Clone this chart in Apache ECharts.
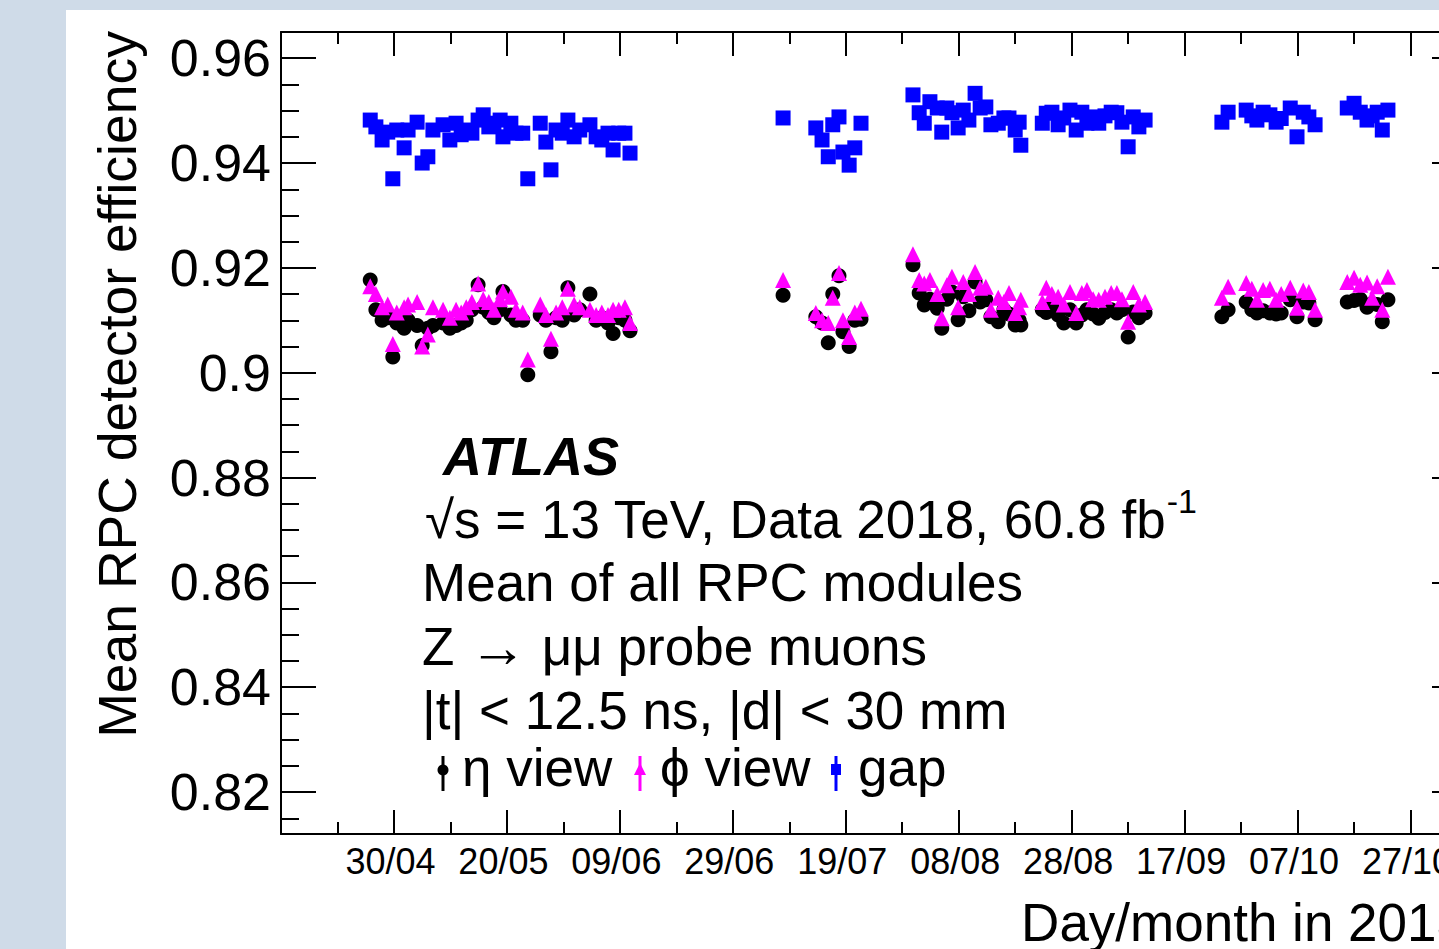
<!DOCTYPE html>
<html>
<head>
<meta charset="utf-8">
<script src="https://cdn.jsdelivr.net/npm/echarts@6/dist/echarts.min.js"></script>
<style>
  html, body { margin: 0; padding: 0; width: 1439px; height: 949px; overflow: hidden; background: #cfdbe8; }
  #chart { position: absolute; left: 66px; top: 10px; width: 1420px; height: 939px; background: #ffffff; }
</style>
</head>
<body>
<div id="chart"></div>
<script>
// ---------------- DATA ----------------
// x: day of year 2018 of each run
const dayOfYear = [
  115.8,116.8,117.9,118.9,119.8,120.5,121.8,122.5,124.1,125.0,126.0,126.9,128.7,129.9,131.0,131.9,132.8,133.8,134.9,135.8,136.8,137.7,138.8,139.3,140.7,141.6,142.8,143.7,145.9,146.9,147.8,148.7,149.8,150.8,151.9,152.9,154.7,155.8,156.8,157.9,158.8,159.8,160.9,161.8,
  188.9,194.7,195.8,196.9,197.7,198.8,199.5,200.6,201.6,202.7,
  211.9,213.0,213.9,214.9,216.2,217.0,217.9,218.8,219.9,220.8,221.8,222.9,223.8,224.8,225.7,227.0,228.0,228.9,230.0,230.7,231.0,
  234.8,235.5,236.5,237.6,238.6,239.7,240.8,241.8,242.7,243.8,244.8,245.9,247.0,248.0,248.9,250.0,250.9,251.9,253.0,
  266.6,267.7,270.9,271.9,272.8,273.9,275.1,276.2,277.1,278.7,279.9,281.0,282.0,283.1,
  288.8,290.0,291.1,292.3,293.2,294.1,295.0,296.0
];
const etaEff = [
  0.9177,0.9120,0.9100,0.9105,0.9030,0.9095,0.9085,0.9100,0.9090,0.9052,0.9085,0.9090,0.9095,0.9085,0.9090,0.9095,0.9100,0.9120,0.9168,0.9125,0.9115,0.9105,0.9120,0.9155,0.9110,0.9100,0.9100,0.8996,0.9110,0.9100,0.9040,0.9105,0.9100,0.9162,0.9110,0.9120,0.9150,0.9100,0.9105,0.9095,0.9075,0.9105,0.9100,0.9080,
  0.9148,0.9107,0.9095,0.9057,0.9150,0.9185,0.9078,0.9050,0.9100,0.9102,
  0.9206,0.9152,0.9129,0.9140,0.9123,0.9085,0.9140,0.9154,0.9101,0.9145,0.9118,0.9173,0.9135,0.9139,0.9107,0.9097,0.9120,0.9112,0.9091,0.9100,0.9091,
  0.9120,0.9115,0.9128,0.9110,0.9095,0.9120,0.9095,0.9110,0.9120,0.9112,0.9104,0.9115,0.9120,0.9114,0.9120,0.9068,0.9116,0.9105,0.9114,
  0.9107,0.9120,0.9135,0.9120,0.9114,0.9118,0.9114,0.9112,0.9114,0.9139,0.9107,0.9135,0.9133,0.9101,
  0.9135,0.9138,0.9140,0.9125,0.9132,0.9130,0.9097,0.9139
];
const phiEff = [
  0.9165,0.9150,0.9125,0.9130,0.9055,0.9115,0.9125,0.9130,0.9135,0.9050,0.9073,0.9125,0.9120,0.9105,0.9120,0.9115,0.9125,0.9135,0.9170,0.9140,0.9135,0.9120,0.9140,0.9155,0.9145,0.9120,0.9115,0.9025,0.9130,0.9110,0.9065,0.9115,0.9125,0.9160,0.9130,0.9125,0.9120,0.9110,0.9115,0.9110,0.9120,0.9120,0.9125,0.9095,
  0.9177,0.9114,0.9100,0.9095,0.9143,0.9190,0.9100,0.9068,0.9115,0.9122,
  0.9226,0.9177,0.9170,0.9177,0.9150,0.9104,0.9167,0.9183,0.9125,0.9173,0.9150,0.9192,0.9162,0.9164,0.9120,0.9143,0.9135,0.9152,0.9114,0.9125,0.9139,
  0.9135,0.9162,0.9150,0.9145,0.9130,0.9154,0.9114,0.9152,0.9158,0.9140,0.9139,0.9145,0.9152,0.9152,0.9140,0.9097,0.9154,0.9130,0.9135,
  0.9143,0.9164,0.9171,0.9160,0.9139,0.9158,0.9160,0.9139,0.9150,0.9162,0.9124,0.9157,0.9154,0.9120,
  0.9173,0.9181,0.9168,0.9172,0.9143,0.9165,0.9120,0.9183
];
const gapEff = [
  0.9482,0.9469,0.9444,0.9459,0.9370,0.9463,0.9429,0.9463,0.9478,0.9400,0.9412,0.9463,0.9473,0.9444,0.9476,0.9454,0.9463,0.9457,0.9482,0.9492,0.9469,0.9476,0.9482,0.9450,0.9476,0.9457,0.9457,0.9370,0.9476,0.9440,0.9387,0.9463,0.9457,0.9482,0.9450,0.9463,0.9473,0.9450,0.9444,0.9457,0.9425,0.9457,0.9457,0.9419,
  0.9486,0.9467,0.9444,0.9412,0.9473,0.9488,0.9421,0.9396,0.9429,0.9476,
  0.9530,0.9496,0.9476,0.9517,0.9505,0.9459,0.9505,0.9496,0.9467,0.9501,0.9482,0.9533,0.9505,0.9507,0.9473,0.9476,0.9486,0.9486,0.9463,0.9478,0.9434,
  0.9476,0.9495,0.9497,0.9473,0.9486,0.9501,0.9463,0.9497,0.9476,0.9488,0.9476,0.9490,0.9497,0.9496,0.9478,0.9431,0.9488,0.9469,0.9482,
  0.9478,0.9497,0.9501,0.9490,0.9482,0.9497,0.9492,0.9478,0.9485,0.9505,0.9450,0.9497,0.9488,0.9473,
  0.9505,0.9514,0.9497,0.9482,0.9490,0.9497,0.9463,0.9501
];
const seriesNames = ['η view', 'ϕ view', 'gap'];

// axis ranges and ticks
const xRange = [100, 310];
const yRange = [0.812, 0.965];
const xMajorTicks = [120, 140, 160, 180, 200, 220, 240, 260, 280, 300];
const xMinorTicks = [110, 130, 150, 170, 190, 210, 230, 250, 270, 290];
const yMajorTicks = [0.82, 0.84, 0.86, 0.88, 0.90, 0.92, 0.94, 0.96];
const yMinorTicks = [0.815, 0.825, 0.83, 0.835, 0.845, 0.85, 0.855, 0.865, 0.87, 0.875, 0.885, 0.89, 0.895,
                     0.905, 0.91, 0.915, 0.925, 0.93, 0.935, 0.945, 0.95, 0.955];

// ---------------- CHART ----------------
const FONT = '"Liberation Sans", Arial, Helvetica, sans-serif';
const pad2 = n => (n < 10 ? '0' : '') + n;
function doyLabel(d) {
  const dt = new Date(Date.UTC(2018, 0, Math.round(d)));
  return pad2(dt.getUTCDate()) + '/' + pad2(dt.getUTCMonth() + 1);
}
const lineStyle = { color: '#000', width: 2 };

function xAxis(position, ticks, len, showLine, showLabel) {
  return {
    type: 'value', gridIndex: 0, position: position, min: xRange[0], max: xRange[1],
    axisLine: { show: showLine, onZero: false, lineStyle: lineStyle },
    axisTick: { show: true, inside: true, length: len, customValues: ticks, lineStyle: lineStyle },
    axisLabel: showLabel ? {
      show: true, customValues: ticks, formatter: doyLabel, margin: 9, padding: [0, 7, 0, 0],
      color: '#000', fontSize: 36, fontFamily: FONT
    } : { show: false },
    splitLine: { show: false }
  };
}
function yAxis(position, ticks, len, showLine, showLabel) {
  return {
    type: 'value', gridIndex: 0, position: position, min: yRange[0], max: yRange[1],
    axisLine: { show: showLine, onZero: false, lineStyle: lineStyle },
    axisTick: { show: true, inside: true, length: len, customValues: ticks, lineStyle: lineStyle },
    axisLabel: showLabel ? {
      show: true, customValues: ticks, formatter: v => String(+v.toFixed(2)), margin: 10,
      color: '#000', fontSize: 52, fontFamily: FONT
    } : { show: false },
    splitLine: { show: false }
  };
}

const chart = echarts.init(document.getElementById('chart'), null, { renderer: 'svg' });

const TS = 53;
const txt = (x, y, text, extra) => ({
  type: 'text', x: x, y: y, silent: true,
  style: Object.assign({ text: text, fill: '#000', fontSize: TS, fontFamily: FONT,
                         align: 'left', verticalAlign: 'middle' }, extra || {})
});

const option = {
  animation: false,
  grid: { left: 215, top: 22, right: 19, bottom: 115, containLabel: false },
  xAxis: [
    xAxis('bottom', xMajorTicks, 24, true, true),
    xAxis('bottom', xMinorTicks, 12, false, false),
    xAxis('top', xMajorTicks, 24, true, false),
    xAxis('top', xMinorTicks, 12, false, false)
  ],
  yAxis: [
    yAxis('left', yMajorTicks, 35, true, true),
    yAxis('left', yMinorTicks, 18, false, false),
    yAxis('right', yMajorTicks, 35, true, false),
    yAxis('right', yMinorTicks, 18, false, false)
  ],
  series: [
    { type: 'scatter', name: seriesNames[0], xAxisIndex: 0, yAxisIndex: 0, symbol: 'circle', symbolSize: 15,
      itemStyle: { color: '#000000', opacity: 1 }, data: dayOfYear.map((d, i) => [d, etaEff[i]]) },
    { type: 'scatter', name: seriesNames[1], xAxisIndex: 0, yAxisIndex: 0, symbol: 'triangle', symbolSize: 16,
      itemStyle: { color: '#ff00ff', opacity: 1 }, data: dayOfYear.map((d, i) => [d, phiEff[i]]) },
    { type: 'scatter', name: seriesNames[2], xAxisIndex: 0, yAxisIndex: 0, symbol: 'rect', symbolSize: 15,
      itemStyle: { color: '#0000ff', opacity: 1 }, data: dayOfYear.map((d, i) => [d, gapEff[i]]) }
  ],
  graphic: [
    // axis titles
    { type: 'text', x: 51, y: 21, rotation: Math.PI / 2, silent: true,
      style: { text: 'Mean RPC detector efficiency', fill: '#000', fontSize: 53.5, fontFamily: FONT,
               align: 'right', verticalAlign: 'middle' } },
    txt(1400, 912, 'Day/month in 2018', { align: 'right' }),
    // annotation block
    txt(377, 446, 'ATLAS', { fontWeight: 'bold', fontStyle: 'italic', fontSize: 54 }),
    txt(359, 509, '√s = 13 TeV, Data 2018, 60.8 fb{sup|-1}', {
      lineHeight: 70,
      rich: { sup: { fontSize: 34, fontFamily: FONT, lineHeight: 34, verticalAlign: 'top', fill: '#000' } }
    }),
    txt(356, 572, 'Mean of all RPC modules'),
    txt(356, 636, 'Z {arr|→} μμ probe muons', {
      rich: { arr: { fontSize: 58, fontFamily: FONT, fill: '#000' } }
    }),
    txt(356, 700, '|t| < 12.5 ns, |d| < 30 mm'),
    // legend
    { type: 'line', silent: true, shape: { x1: 377, y1: 746, x2: 377, y2: 781 }, style: { stroke: '#000', lineWidth: 3 } },
    { type: 'circle', silent: true, shape: { cx: 377, cy: 760, r: 5.5 }, style: { fill: '#000' } },
    txt(396, 757, seriesNames[0]),
    { type: 'line', silent: true, shape: { x1: 574, y1: 746, x2: 574, y2: 781 }, style: { stroke: '#ff00ff', lineWidth: 3 } },
    { type: 'polygon', silent: true, shape: { points: [[574, 753], [568, 765], [580, 765]] }, style: { fill: '#ff00ff' } },
    txt(594, 757, seriesNames[1]),
    { type: 'line', silent: true, shape: { x1: 770, y1: 746, x2: 770, y2: 781 }, style: { stroke: '#0000ff', lineWidth: 3 } },
    { type: 'rect', silent: true, shape: { x: 765, y: 754, width: 10, height: 11 }, style: { fill: '#0000ff' } },
    txt(792, 757, seriesNames[2])
  ]
};
chart.setOption(option);
</script>
</body>
</html>
